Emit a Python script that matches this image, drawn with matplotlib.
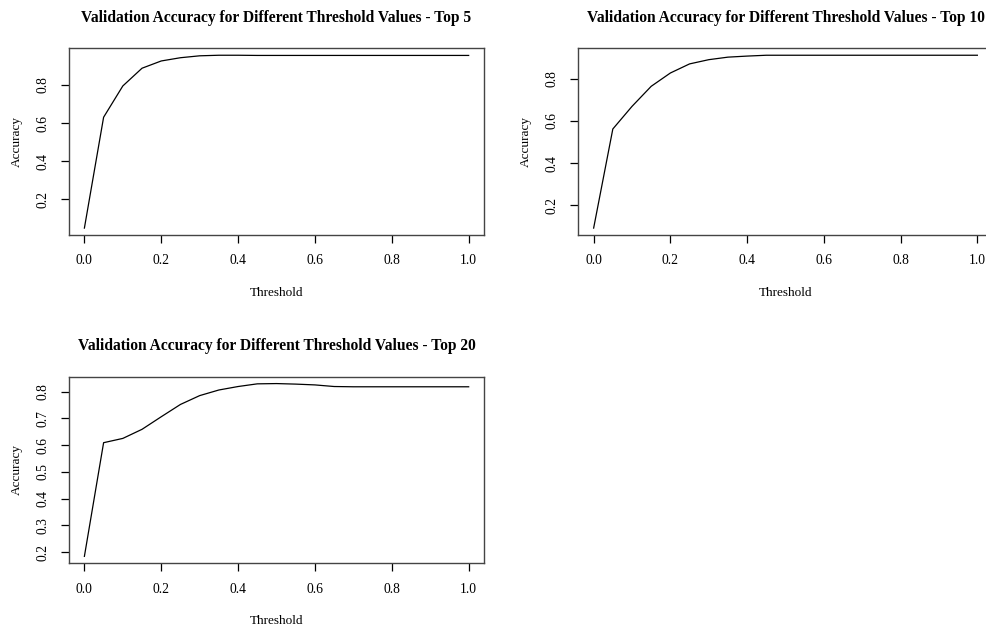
import matplotlib
matplotlib.use("Agg")
import matplotlib.pyplot as plt

thresholds = [0.00, 0.05, 0.10, 0.15, 0.20, 0.25, 0.30, 0.35, 0.40, 0.45, 0.50,
              0.55, 0.60, 0.65, 0.70, 0.75, 0.80, 0.85, 0.90, 0.95, 1.00]

acc_top5 = [0.050, 0.631, 0.795, 0.888, 0.926, 0.943, 0.953, 0.956, 0.956, 0.955, 0.955,
            0.955, 0.955, 0.955, 0.955, 0.955, 0.955, 0.955, 0.955, 0.955, 0.955]
acc_top10 = [0.093, 0.562, 0.669, 0.764, 0.827, 0.870, 0.890, 0.902, 0.907, 0.911, 0.911,
             0.911, 0.911, 0.911, 0.911, 0.911, 0.911, 0.911, 0.911, 0.911, 0.911]
acc_top20 = [0.184, 0.609, 0.625, 0.659, 0.706, 0.752, 0.785, 0.806, 0.819, 0.829, 0.830,
             0.828, 0.825, 0.819, 0.818, 0.818, 0.818, 0.818, 0.818, 0.818, 0.818]

titles = ["Validation Accuracy for Different Threshold Values - Top 5",
          "Validation Accuracy for Different Threshold Values - Top 10",
          "Validation Accuracy for Different Threshold Values - Top 20"]
yticks_list = [[0.2, 0.4, 0.6, 0.8],
               [0.2, 0.4, 0.6, 0.8],
               [0.2, 0.3, 0.4, 0.5, 0.6, 0.7, 0.8]]
xticks = [0.0, 0.2, 0.4, 0.6, 0.8, 1.0]

plt.rcParams["font.family"] = ["Liberation Serif", "DejaVu Serif"]

fig = plt.figure(figsize=(9.86, 6.26), dpi=100)
# R-style panel placement (last one on the right runs off the page, as in the original)
rects = [[0.070, 0.6246, 0.4209, 0.2982],
         [0.5865, 0.6246, 0.4203, 0.2982],
         [0.070, 0.1002, 0.4209, 0.2981]]

for rect, ys, title, yt in zip(rects, [acc_top5, acc_top10, acc_top20], titles, yticks_list):
    ax = fig.add_axes(rect)
    ax.plot(thresholds, ys, color="black", lw=0.9)
    lo, hi = min(ys), max(ys)
    pad = 0.04 * (hi - lo)
    ax.set_ylim(lo - pad, hi + pad)
    ax.set_xlim(-0.04, 1.04)
    ax.set_xticks(xticks)
    ax.set_xticklabels([f"{v:.1f}" for v in xticks])
    ax.set_yticks(yt)
    ax.set_yticklabels([f"{v:.1f}" for v in yt], rotation=90, va="center")
    ax.tick_params(direction="out", length=6, width=0.9, labelsize=9.8, pad=8,
                   color="black")
    for s in ax.spines.values():
        s.set_linewidth(1.0)
        s.set_color("#444444")
    ax.set_title(title, fontsize=11.2, fontweight="bold", pad=19)
    ax.set_xlabel("Threshold", fontsize=9.5, labelpad=14)
    ax.set_ylabel("Accuracy", fontsize=9.5, labelpad=10)

fig.savefig("out.png", dpi=100)
